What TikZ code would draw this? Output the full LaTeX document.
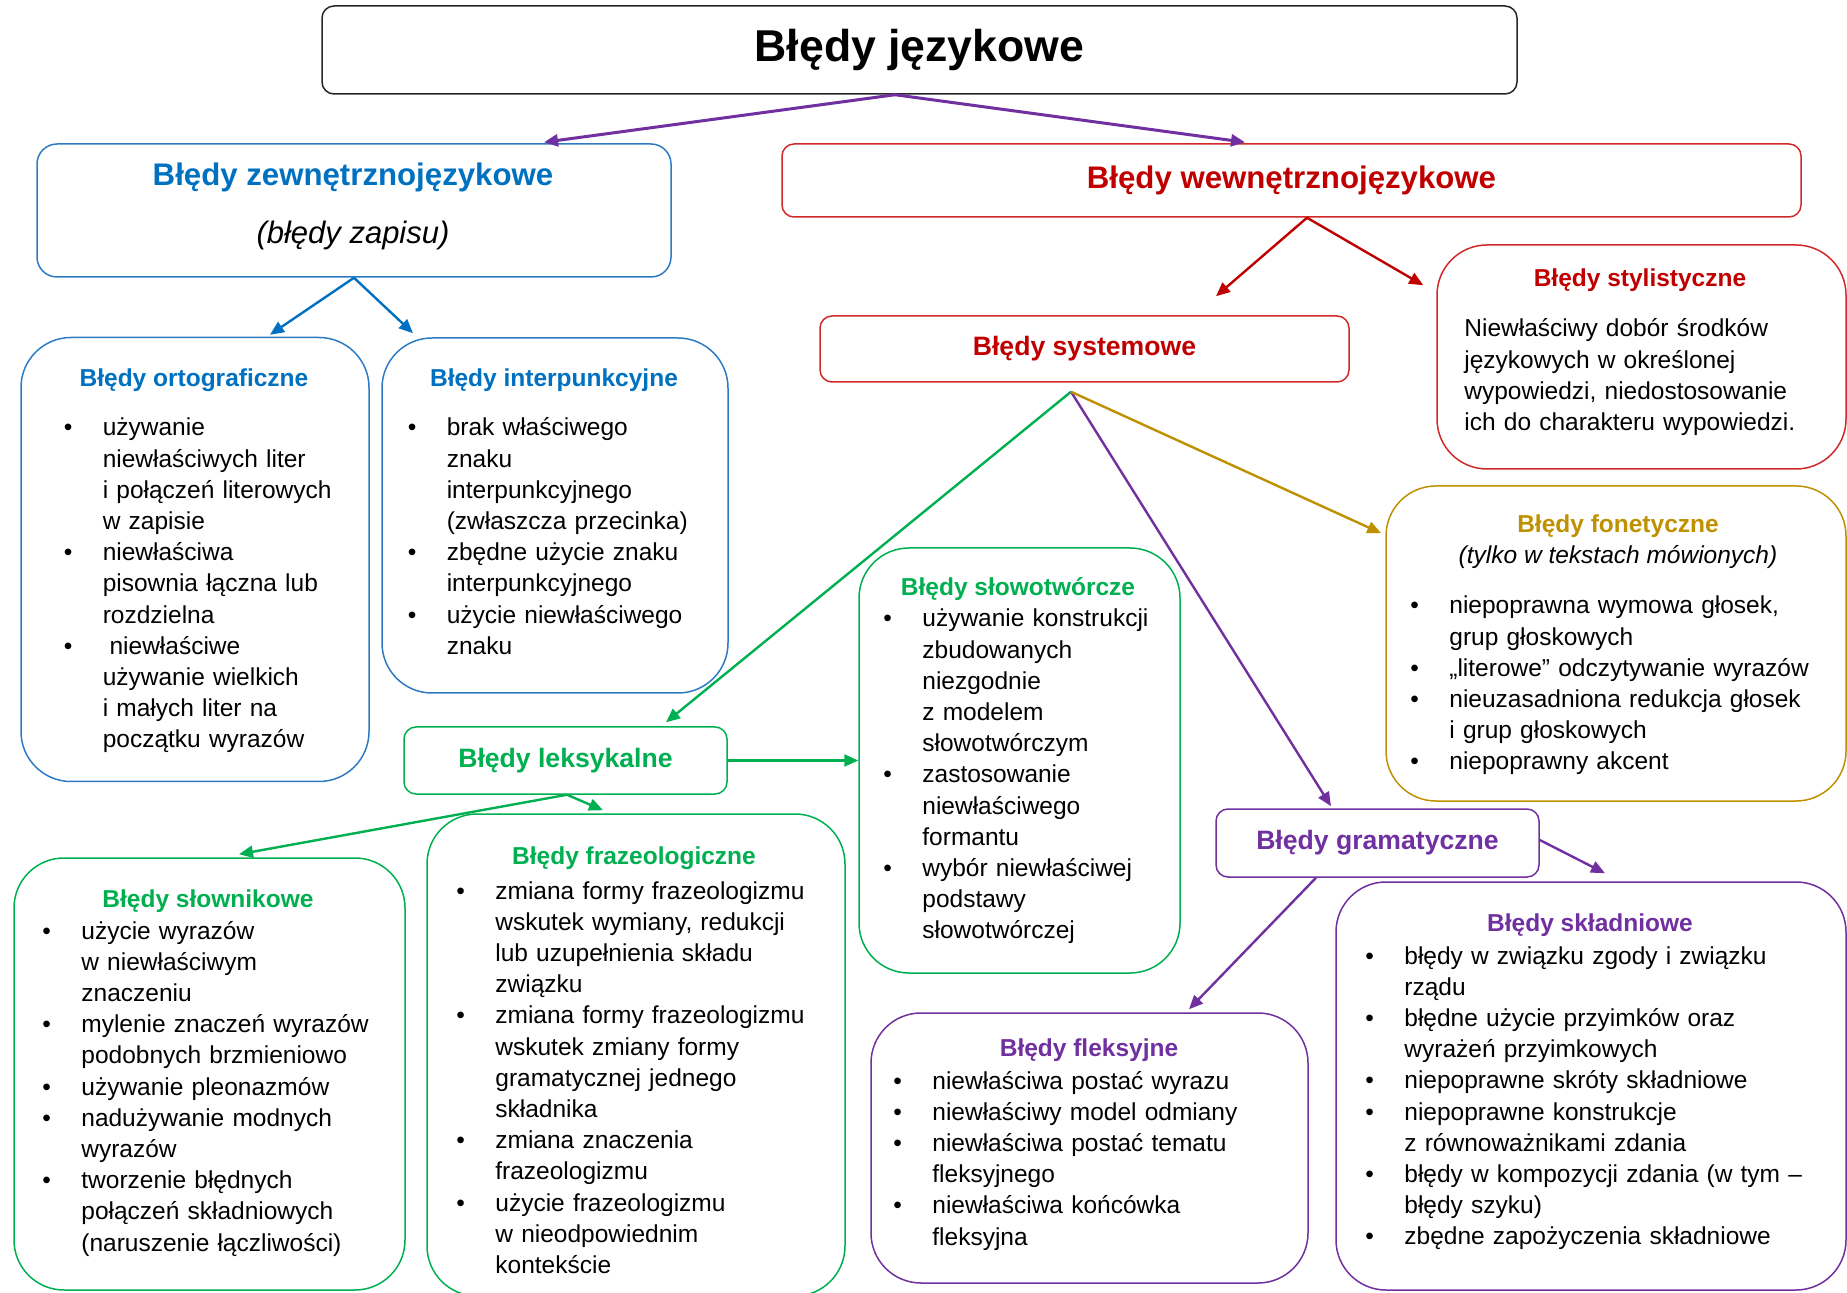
\documentclass[tikz,border=0pt]{standalone}
\usepackage{fontspec}
\setmainfont{Liberation Sans}
\usetikzlibrary{arrows.meta}

\definecolor{blueTxt}{HTML}{0070C0}
\definecolor{blueLine}{HTML}{2E7BC4}
\definecolor{redTxt}{HTML}{C00000}
\definecolor{redLine}{HTML}{D02A2A}
\definecolor{greenTxt}{HTML}{00B050}
\definecolor{goldTxt}{HTML}{BF9000}
\definecolor{purpleTxt}{HTML}{7030A0}

\newlength{\itmind}
\setlength{\itmind}{19.5pt}
\newcommand{\nl}{\hfil\break}
\newcommand{\itm}[1]{\hangindent=\itmind\hangafter=1\makebox[\itmind][l]{\textbullet}#1\par}
\newcommand{\bigbold}{\fontsize{15.6pt}{18pt}\selectfont\bfseries}
\newcommand{\midbold}{\fontsize{13.3pt}{16pt}\selectfont\bfseries}
\newcommand{\smallbold}{\fontsize{12.25pt}{15pt}\selectfont\bfseries}

\begin{document}
\begin{tikzpicture}[x=0.5pt,y=0.5pt,yscale=-1,xscale=1,
  box/.style={draw, rounded corners=#1, line width=0.75pt, inner sep=0pt},
  box/.default=6pt,
  txt/.style={inner sep=0pt, anchor=center},
  lst/.style={inner sep=0pt, anchor=base west, text width=250pt,
    font=\fontsize{12.25pt}{15.6pt}\selectfont},
  arr/.style={-{Triangle[length=7pt,width=6pt]}, line width=1.2pt}]
\useasboundingbox (0,0) rectangle (1847,1293);

%Rounded Rect: top
\node [box, draw=black!85, minimum width=597.5pt, minimum height=44pt,
  font=\fontsize{22.3pt}{26pt}\selectfont\bfseries] (title) at (919.5,50) {Błędy językowe};

%Rounded Rect: outer errors
\node [box=10pt, draw=blueLine, minimum width=317pt, minimum height=66.5pt] (zewn) at (354,210.5) {};
% Text Node
\node [txt, text=blueTxt, font=\bigbold] (zewnHead) at (353,177) {Błędy zewnętrznojęzykowe};
\node [txt, font=\fontsize{15.5pt}{18pt}\selectfont\itshape] (zewnSub) at (353,235) {(błędy zapisu)};

%Rounded Rect: inner errors
\node [box, draw=redLine, text=redTxt, minimum width=509.5pt, minimum height=36.5pt,
  font=\bigbold] (wewn) at (1291.5,180.5) {Błędy wewnętrznojęzykowe};

%Rounded Rect: ortograficzne
\node [box=25pt, draw=blueLine, minimum width=174pt, minimum height=222pt] (orto) at (195,559.5) {};
% Text Node
\node [txt, text=blueTxt, font=\smallbold] (ortoHead) at (194,380) {Błędy ortograficzne};
\node [lst] (ortoList) at (63.4,436) {%
\itm{używanie\nl niewłaściwych liter\nl i połączeń literowych\nl w zapisie}%
\itm{niewłaściwa\nl pisownia łączna lub\nl rozdzielna}%
\itm{\hspace{3.4pt}niewłaściwe\nl używanie wielkich\nl i małych liter na\nl początku wyrazów}};

%Rounded Rect: interpunkcyjne
\node [box=25pt, draw=blueLine, minimum width=173pt, minimum height=177.5pt] (interp) at (555,515.5) {};
% Text Node
\node [txt, text=blueTxt, font=\smallbold] (interpHead) at (554,380) {Błędy interpunkcyjne};
\node [lst] (interpList) at (407.4,436) {%
\itm{brak właściwego\nl znaku\nl interpunkcyjnego\nl (zwłaszcza przecinka)}%
\itm{zbędne użycie znaku\nl interpunkcyjnego}%
\itm{użycie niewłaściwego\nl znaku}};

%Rounded Rect: systemowe
\node [box, draw=redLine, text=redTxt, minimum width=264.5pt, minimum height=33pt,
  font=\midbold] (sys) at (1084.5,349) {Błędy systemowe};

%Rounded Rect: stylistyczne
\node [box=25pt, draw=redLine, minimum width=204.5pt, minimum height=112pt] (styl) at (1641.5,357) {};
% Text Node
\node [txt, text=redTxt, font=\smallbold] (stylHead) at (1640,280) {Błędy stylistyczne};
\node [lst] (stylTxt) at (1464,337) {Niewłaściwy dobór środków\nl językowych w określonej\nl wypowiedzi, niedostosowanie\nl ich do charakteru wypowiedzi.};

%Rounded Rect: fonetyczne
\node [box=25pt, draw=goldTxt, minimum width=230pt, minimum height=157.5pt] (fonet) at (1616,643.5) {};
% Text Node
\node [txt, text=goldTxt, font=\smallbold] (fonetHead) at (1618,526) {Błędy fonetyczne};
\node [txt, font=\fontsize{12.25pt}{15pt}\selectfont\itshape] (fonetSub) at (1618,557) {(tylko w tekstach mówionych)};
\node [lst] (fonetList) at (1410,614) {%
\itm{niepoprawna wymowa głosek,\nl grup głoskowych}%
\itm{„literowe” odczytywanie wyrazów}%
\itm{nieuzasadniona redukcja głosek\nl i grup głoskowych}%
\itm{niepoprawny akcent}};

%Rounded Rect: slowotworcze
\node [box=25pt, draw=greenTxt, minimum width=160.5pt, minimum height=212.5pt] (slowo) at (1019.5,760.5) {};
% Text Node
\node [txt, text=greenTxt, font=\smallbold] (slowoHead) at (1018,589) {Błędy słowotwórcze};
\node [lst] (slowoList) at (883,627) {%
\itm{używanie konstrukcji\nl zbudowanych\nl niezgodnie\nl z modelem\nl słowotwórczym}%
\itm{zastosowanie\nl niewłaściwego\nl formantu}%
\itm{wybór niewłaściwej\nl podstawy\nl słowotwórczej}};

%Rounded Rect: leksykalne
\node [box, draw=greenTxt, text=greenTxt, minimum width=161.5pt, minimum height=33.5pt,
  font=\midbold] (leks) at (565.5,760.5) {Błędy leksykalne};

%Rounded Rect: gramatyczne
\node [box, draw=purpleTxt, text=purpleTxt, minimum width=161.5pt, minimum height=34pt,
  font=\midbold] (gram) at (1377.5,843) {Błędy gramatyczne};

%Rounded Rect: slownikowe
\node [box=25pt, draw=greenTxt, minimum width=195.5pt, minimum height=216pt] (slown) at (209.5,1074) {};
% Text Node
\node [txt, text=greenTxt, font=\smallbold] (slownHead) at (208,901) {Błędy słownikowe};
\node [lst] (slownList) at (42,939) {%
\itm{użycie wyrazów\nl w niewłaściwym\nl znaczeniu}%
\itm{mylenie znaczeń wyrazów\nl podobnych brzmieniowo}%
\itm{używanie pleonazmów}%
\itm{nadużywanie modnych\nl wyrazów}%
\itm{tworzenie błędnych\nl połączeń składniowych\nl (naruszenie łączliwości)}};

%Rounded Rect: frazeologiczne
\node [box=25pt, draw=greenTxt, minimum width=209pt, minimum height=241pt] (fraz) at (636,1055) {};
% Text Node
\node [txt, text=greenTxt, font=\smallbold] (frazHead) at (634,858) {Błędy frazeologiczne};
\node [lst] (frazList) at (456,899) {%
\itm{zmiana formy frazeologizmu\nl wskutek wymiany, redukcji\nl lub uzupełnienia składu\nl związku}%
\itm{zmiana formy frazeologizmu\nl wskutek zmiany formy\nl gramatycznej jednego\nl składnika}%
\itm{zmiana znaczenia\nl frazeologizmu}%
\itm{użycie frazeologizmu\nl w nieodpowiednim\nl kontekście}};

%Rounded Rect: fleksyjne
\node [box=25pt, draw=purpleTxt, minimum width=218.5pt, minimum height=135pt] (fleks) at (1089.5,1148) {};
% Text Node
\node [txt, text=purpleTxt, font=\smallbold] (fleksHead) at (1089,1050) {Błędy fleksyjne};
\node [lst] (fleksList) at (893,1089) {%
\itm{niewłaściwa postać wyrazu}%
\itm{niewłaściwy model odmiany}%
\itm{niewłaściwa postać tematu\nl fleksyjnego}%
\itm{niewłaściwa końcówka\nl fleksyjna}};

%Rounded Rect: skladniowe
\node [box=25pt, draw=purpleTxt, minimum width=255pt, minimum height=204pt] (skl) at (1591,1086) {};
% Text Node
\node [txt, text=purpleTxt, font=\smallbold] (sklHead) at (1590,925) {Błędy składniowe};
\node [lst] (sklList) at (1365,964) {%
\itm{błędy w związku zgody i związku\nl rządu}%
\itm{błędne użycie przyimków oraz\nl wyrażeń przyimkowych}%
\itm{niepoprawne skróty składniowe}%
\itm{niepoprawne konstrukcje\nl z równoważnikami zdania}%
\itm{błędy w kompozycji zdania (w tym –\nl błędy szyku)}%
\itm{zbędne zapożyczenia składniowe}};

%Straight Lines
\coordinate (titleOut) at ([xshift=-12.25pt]title.south);
\coordinate (wewnOut) at ([xshift=7.75pt]wewn.south);
\coordinate (sysOut) at ([xshift=-6.75pt,yshift=4.5pt]sys.south);
\coordinate (leksOut) at ([xshift=0.75pt]leks.south);
\coordinate (gramOut) at ([xshift=-30.75pt]gram.south);

\draw [arr, purpleTxt, line width=1.5pt] (titleOut) -- ([xshift=95pt,yshift=-0.5pt]zewn.north);
\draw [arr, purpleTxt, line width=1.5pt] (titleOut) -- ([xshift=-23.25pt,yshift=-0.5pt]wewn.north);
\draw [arr, blueTxt] (zewn.south) -- ([xshift=37.5pt,yshift=-1pt]orto.north);
\draw [arr, blueTxt] (zewn.south) -- ([xshift=-71pt,yshift=-2pt]interp.north);
\draw [arr, redTxt] (wewnOut) -- ([xshift=65.75pt,yshift=-9.5pt]sys.north);
\draw [arr, redTxt] (wewnOut) -- ([xshift=-6.5pt,yshift=20.5pt]styl.north west);
\draw [arr, greenTxt] (sysOut) -- ([xshift=50.25pt,yshift=-2pt]leks.north);
\draw [arr, purpleTxt] (sysOut) -- ([xshift=-23.25pt,yshift=-1pt]gram.north);
\draw [arr, goldTxt] (sysOut) -- ([xshift=-2pt,yshift=24pt]fonet.north west);
\draw [arr, greenTxt] (leks.east) -- (slowo.west);
\draw [arr, greenTxt] (leksOut) -- ([xshift=14.75pt,yshift=-1.5pt]slown.north);
\draw [arr, greenTxt] (leksOut) -- ([xshift=-16.5pt,yshift=-1.5pt]fraz.north);
\draw [arr, purpleTxt] (gramOut) -- ([xshift=49.75pt,yshift=-1.5pt]fleks.north);
\draw [arr, purpleTxt] ([yshift=-1.5pt]gram.east) -- ([xshift=7pt,yshift=-4pt]skl.north);
\end{tikzpicture}
\end{document}
